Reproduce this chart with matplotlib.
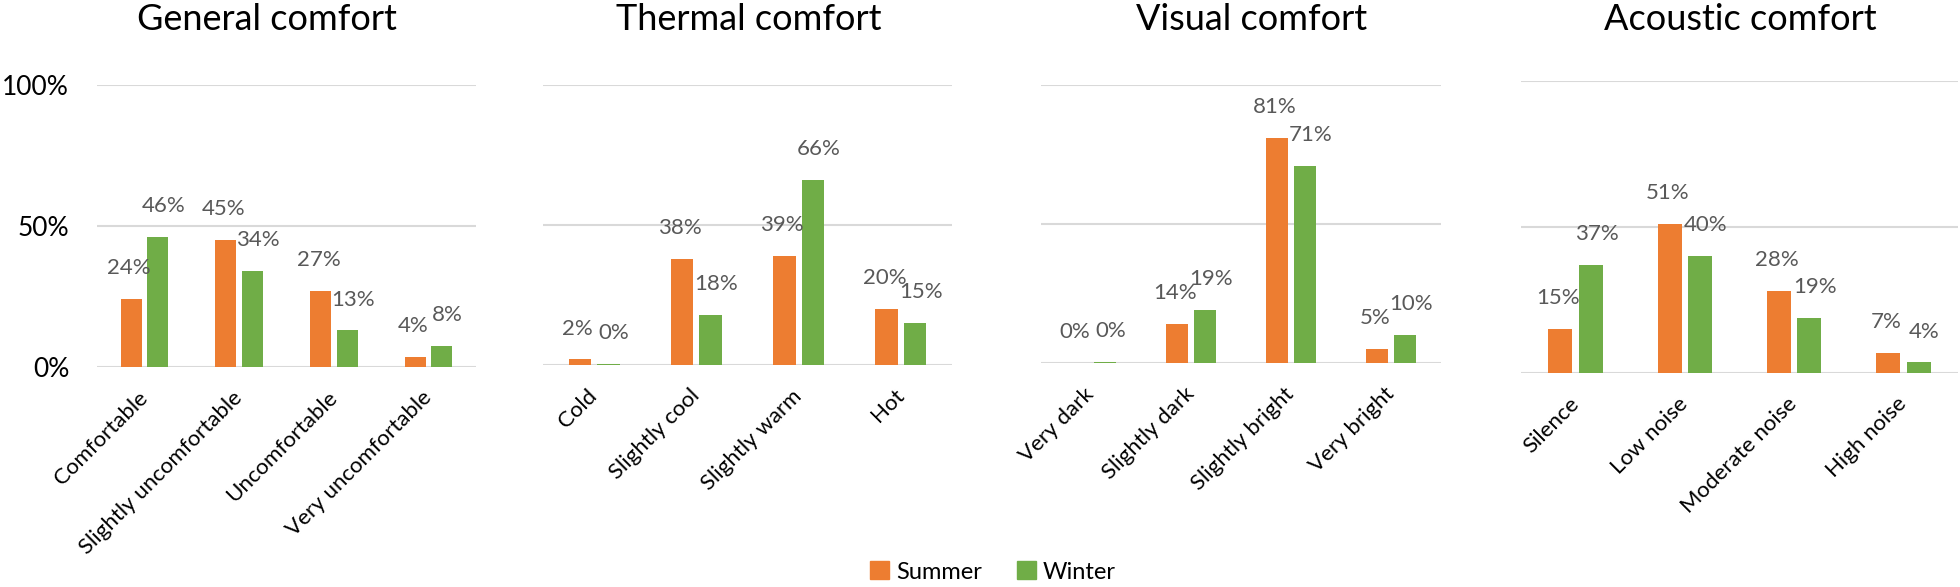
#!/usr/bin/env python3

import matplotlib
matplotlib.use("Agg")
import matplotlib.pyplot as plt
import matplotlib.patches as mpatches
import numpy as np

plt.rcParams['font.family'] = ['Lato', 'DejaVu Sans']

# survey answers, percent of respondents
titles = ['General comfort', 'Thermal comfort', 'Visual comfort', 'Acoustic comfort']

general_cats = ['Comfortable', 'Slightly uncomfortable', 'Uncomfortable', 'Very uncomfortable']
general_summer = [24, 45, 27, 3.6]
general_winter = [46, 34, 13, 7.6]

thermal_cats = ['Cold', 'Slightly cool', 'Slightly warm', 'Hot']
thermal_summer = [2, 38, 39, 20]
thermal_winter = [0.5, 18, 66, 15]

visual_cats = ['Very dark', 'Slightly dark', 'Slightly bright', 'Very bright']
visual_summer = [0, 14, 81, 5]
visual_winter = [0.5, 19, 71, 10]

acoustic_cats = ['Silence', 'Low noise', 'Moderate noise', 'High noise']
acoustic_summer = [15, 51, 28, 7]
acoustic_winter = [37, 40, 19, 3.6]

ORANGE = '#ED7D31'
GREEN = '#70AD47'
GRID = '#D9D9D9'
LABEL = '#595959'

W, H = 1960, 587

# axes boxes in pixels: left, right, top (100%), bottom (0%)
boxes = [(97, 476, 85, 367),
         (543, 952, 85, 365),
         (1041, 1441, 85, 363),
         (1521, 1958, 81, 373)]
title_x = [267, 749, 1252, 1740]


def draw_panel(fig, box, cats, summer, winter, show_y):
    l, r, t, b = box
    ax = fig.add_axes([l / W, (H - b) / H, (r - l) / W, (b - t) / H])
    x = np.arange(len(cats))
    w = 0.22
    off = 0.14
    bs = ax.bar(x - off, summer, w, color=ORANGE, zorder=3)
    bw = ax.bar(x + off, winter, w, color=GREEN, zorder=3)

    for bars, vals, dx in [(bs, summer, -1.5), (bw, winter, 4)]:
        for rect, v in zip(bars, vals):
            ax.annotate(f"{v:.0f}%", (rect.get_x() + rect.get_width() / 2, v),
                        xytext=(dx, 15), textcoords='offset points',
                        ha='center', va='bottom', fontsize=16, color=LABEL)

    ax.set_xlim(-0.5, len(cats) - 0.5)
    ax.set_ylim(0, 100)
    ax.set_yticks([0, 50, 100])
    ax.yaxis.grid(True, color=GRID, linewidth=1.5, zorder=0)
    for s in ax.spines.values():
        s.set_visible(False)
    ax.tick_params(axis='both', length=0)
    ax.set_xticks(x)
    ax.set_xticklabels(cats, rotation=45, ha='right', va='center',
                       rotation_mode='anchor', fontsize=16)
    ax.tick_params(axis='x', pad=20)
    if show_y:
        ax.set_yticklabels(['0%', '50%', '100%'], fontsize=19)
        ax.tick_params(axis='y', pad=20)
    else:
        ax.set_yticklabels([])
    return ax


fig = plt.figure(figsize=(W / 100, H / 100), dpi=100)

panels = [(general_cats, general_summer, general_winter),
          (thermal_cats, thermal_summer, thermal_winter),
          (visual_cats, visual_summer, visual_winter),
          (acoustic_cats, acoustic_summer, acoustic_winter)]

for i, (cats, s, wv) in enumerate(panels):
    draw_panel(fig, boxes[i], cats, s, wv, i == 0)
    fig.text(title_x[i] / W, 1 - 19 / H, titles[i], ha='center', va='center', fontsize=26)

handles = [mpatches.Patch(color=ORANGE, label='Summer'),
           mpatches.Patch(color=GREEN, label='Winter')]
fig.legend(handles=handles, loc='center', bbox_to_anchor=(993 / W, 1 - 572 / H),
           ncol=2, frameon=False, fontsize=17, handlelength=0.8, handleheight=0.8,
           handletextpad=0.3, columnspacing=1.5)

fig.savefig("out.png", dpi=100)
